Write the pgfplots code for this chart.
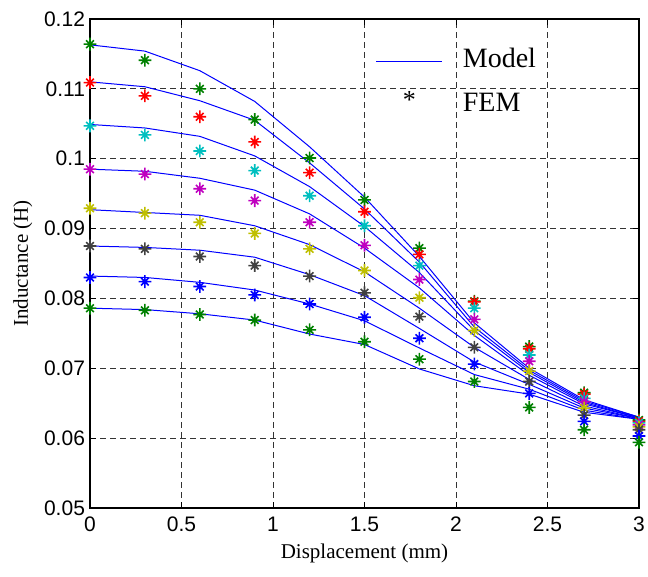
\documentclass[border=0pt]{standalone}
\usepackage{fontspec}
\setmainfont{Liberation Serif}
\newfontfamily\arial{Liberation Sans}
\usepackage{pgfplots}
\pgfplotsset{compat=1.18}
\definecolor{mgreen}{rgb}{0,0.5,0}
\definecolor{mred}{rgb}{1,0,0}
\definecolor{mcyan}{rgb}{0,0.75,0.75}
\definecolor{mmag}{rgb}{0.75,0,0.75}
\definecolor{myel}{rgb}{0.75,0.75,0}
\definecolor{mblack}{rgb}{0.25,0.25,0.25}
\definecolor{mblue}{rgb}{0,0,1}
\pgfdeclareplotmark{mstar}{%
  \pgfpathmoveto{\pgfqpoint{0pt}{\pgfplotmarksize}}%
  \pgfpathlineto{\pgfqpoint{0pt}{-\pgfplotmarksize}}%
  \pgfpathmoveto{\pgfqpoint{\pgfplotmarksize}{0pt}}%
  \pgfpathlineto{\pgfqpoint{-\pgfplotmarksize}{0pt}}%
  \pgfpathmoveto{\pgfqpoint{0.6\pgfplotmarksize}{0.6\pgfplotmarksize}}%
  \pgfpathlineto{\pgfqpoint{-0.6\pgfplotmarksize}{-0.6\pgfplotmarksize}}%
  \pgfpathmoveto{\pgfqpoint{0.6\pgfplotmarksize}{-0.6\pgfplotmarksize}}%
  \pgfpathlineto{\pgfqpoint{-0.6\pgfplotmarksize}{0.6\pgfplotmarksize}}%
  \pgfusepathqstroke}
\pgfplotstableread{
x     m1     m2     m3     m4     m5     m6     m7     m8
0.0   0.1163 0.1110 0.1049 0.0985 0.0927 0.0875 0.0832 0.0786
0.3   0.1154 0.1103 0.1044 0.0982 0.0923 0.0873 0.0830 0.0784
0.6   0.1126 0.1083 0.1032 0.0972 0.0919 0.0869 0.0823 0.0778
0.9   0.1082 0.1055 0.1004 0.0955 0.0904 0.0859 0.0812 0.0769
1.2   0.1017 0.0994 0.0960 0.0921 0.0877 0.0834 0.0792 0.0749
1.5   0.0945 0.0928 0.0903 0.0872 0.0838 0.0804 0.0768 0.0734
1.8   0.0860 0.0852 0.0837 0.0815 0.0786 0.0757 0.0729 0.0699
2.1   0.0765 0.0759 0.0754 0.0747 0.0730 0.0709 0.0691 0.0675
2.4   0.0700 0.0697 0.0694 0.0690 0.0684 0.0677 0.0670 0.0663
2.7   0.0655 0.0653 0.0651 0.0649 0.0646 0.0643 0.0640 0.0637
3.0   0.0630 0.0630 0.0629 0.0629 0.0628 0.0628 0.0627 0.0627
}\model
\pgfplotstableread{
x     f1     f2     f3     f4     f5     f6     f7     f8
0.0   0.1164 0.1109 0.1047 0.0985 0.0929 0.0875 0.0830 0.0786
0.3   0.1141 0.1090 0.1034 0.0978 0.0922 0.0871 0.0824 0.0783
0.6   0.1100 0.1060 0.1011 0.0957 0.0909 0.0860 0.0817 0.0777
0.9   0.1056 0.1024 0.0983 0.0940 0.0893 0.0847 0.0805 0.0769
1.2   0.1001 0.0980 0.0947 0.0909 0.0871 0.0832 0.0792 0.0755
1.5   0.0941 0.0924 0.0904 0.0876 0.0840 0.0808 0.0773 0.0738
1.8   0.0872 0.0863 0.0847 0.0827 0.0801 0.0774 0.0743 0.0713
2.1   0.0796 0.0795 0.0786 0.0770 0.0754 0.0730 0.0706 0.0681
2.4   0.0731 0.0728 0.0719 0.0710 0.0696 0.0681 0.0664 0.0644
2.7   0.0665 0.0663 0.0657 0.0652 0.0643 0.0633 0.0624 0.0612
3.0   0.0626 0.0624 0.0622 0.0619 0.0616 0.0612 0.0603 0.0594
}\fem
\begin{document}
\begin{tikzpicture}
\begin{axis}[
  scale only axis, width=274.5pt, height=244.5pt,
  xmin=0, xmax=3, ymin=0.05, ymax=0.12,
  xtick={0,0.5,...,3}, ytick={0.05,0.06,...,0.12},
  /pgf/number format/assume math mode=true,
  /pgf/number format/fixed, /pgf/number format/precision=2,
  yticklabel style={/pgf/number format/fixed, /pgf/number format/precision=2},
  scaled y ticks=false,
  tick label style={font=\arial\fontsize{10.5}{12}\selectfont},
  xticklabel style={yshift=-1pt},
  yticklabel style={xshift=1pt},
  xlabel={Displacement (mm)}, ylabel={Inductance (H)},
  label style={font=\fontsize{10.5}{12}\selectfont},
  xlabel style={yshift=1pt},
  ylabel style={yshift=-1pt},
  grid=major,
  major grid style={black!80, dash pattern=on 3pt off 2pt, line width=0.5pt},
  axis line style={black, line width=0.6pt},
  tick align=inside, major tick length=3pt, tick style={black, line width=0.5pt},
  legend style={at={(axis cs:1.56,0.1164)}, anchor=north west, draw=none, fill=none,
    font=\fontsize{14}{16}\selectfont, row sep=7pt, inner sep=0pt,
    /tikz/every odd column/.append style={column sep=8pt}},
  legend cell align=left,
  mark size=3.2pt,
]
\addlegendimage{legend image code/.code={\draw[mblue, line width=0.5pt] (0pt,-1pt) -- (33pt,-1pt);}}
\addlegendentry{Model}
\addlegendimage{legend image code/.code={\node[font=\fontsize{13}{14}\selectfont, inner sep=0pt] at (13pt,1pt) {*};}}
\addlegendentry{FEM}
\foreach \c in {m1,m2,m3,m4,m5,m6,m7,m8}{
  \addplot[mblue, line width=0.5pt, no marks, forget plot] table[x=x, y=\c] {\model};
}
\addplot[only marks, mark=mstar, mgreen, line width=0.8pt, forget plot] table[x=x, y=f1] {\fem};
\addplot[only marks, mark=mstar, mred, line width=0.8pt, forget plot] table[x=x, y=f2] {\fem};
\addplot[only marks, mark=mstar, mcyan, line width=0.8pt, forget plot] table[x=x, y=f3] {\fem};
\addplot[only marks, mark=mstar, mmag, line width=0.8pt, forget plot] table[x=x, y=f4] {\fem};
\addplot[only marks, mark=mstar, myel, line width=0.8pt, forget plot] table[x=x, y=f5] {\fem};
\addplot[only marks, mark=mstar, mblack, line width=0.8pt, forget plot] table[x=x, y=f6] {\fem};
\addplot[only marks, mark=mstar, mblue, line width=0.8pt, forget plot] table[x=x, y=f7] {\fem};
\addplot[only marks, mark=mstar, mgreen, line width=0.8pt, forget plot] table[x=x, y=f8] {\fem};
\end{axis}
\pgfresetboundingbox
\path ([xshift=-45pt,yshift=-34.5pt]current axis.south west) rectangle ([xshift=4.5pt,yshift=9.5pt]current axis.north east);
\end{tikzpicture}
\end{document}
